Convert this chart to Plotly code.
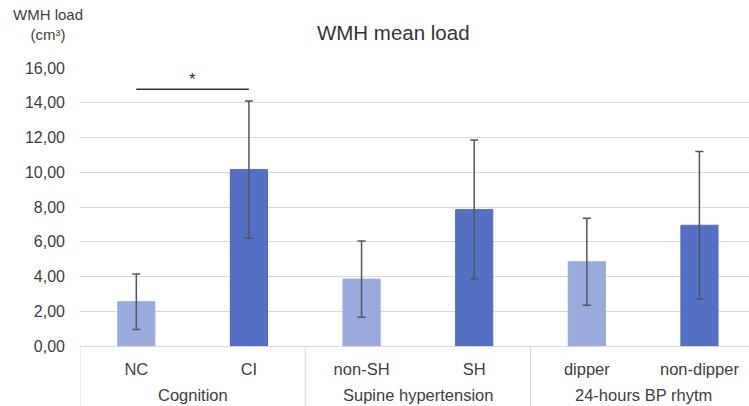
import plotly.graph_objects as go

groups = ["Cognition", "Supine hypertension", "24-hours BP rhytm"]
group_sizes = [2, 2, 2]
categories = ["NC", "CI", "non-SH", "SH", "dipper", "non-dipper"]
means = [2.55, 10.15, 3.85, 7.85, 4.85, 6.95]
errors = [1.6, 3.95, 2.2, 4.0, 2.5, 4.25]
bar_colors = ["#98abdc", "#5470c4", "#98abdc", "#5470c4", "#98abdc", "#5470c4"]
line_colors = ["#98abdc", "#4a5ee8", "#98abdc", "#5470c4", "#98abdc", "#5470c4"]
y_ticks = [0, 2, 4, 6, 8, 10, 12, 14, 16]
y_ticklabels = ["0,00", "2,00", "4,00", "6,00", "8,00", "10,00", "12,00", "14,00", "16,00"]
sig_pair = ["NC", "CI"]
sig_y = 14.78
star_y = 15.35

fig = go.Figure()
fig.add_trace(go.Bar(
    x=categories, y=means,
    marker=dict(color=bar_colors, line=dict(color=line_colors, width=1)),
    width=0.33,
    error_y=dict(type="data", array=errors, visible=True,
                 color="#555555", thickness=1.5, width=4),
    showlegend=False,
))
fig.add_trace(go.Scatter(
    x=sig_pair, y=[sig_y, sig_y], mode="lines",
    line=dict(color="#333333", width=1.5), showlegend=False,
))
i0, i1 = categories.index(sig_pair[0]), categories.index(sig_pair[1])
fig.add_annotation(
    x=(i0 + i1) / 2, y=star_y, xref="x", yref="y", text="*", showarrow=False,
    font=dict(size=17, color="#333333"),
)

# group labels and dividers derived from category indices
bottom_frac = -60 / 278
start = 0
fig.add_shape(type="line", xref="x", yref="paper", x0=-0.5, x1=-0.5, y0=0, y1=bottom_frac,
              line=dict(color="#d9d9d9", width=1))
for g, n in zip(groups, group_sizes):
    end = start + n
    fig.add_annotation(
        x=(start + end - 1) / 2, y=-48.5 / 278, xref="x", yref="paper", text=g,
        showarrow=False, yanchor="middle", font=dict(size=16.5, color="#404040"),
    )
    fig.add_shape(type="line", xref="x", yref="paper", x0=end - 0.5, x1=end - 0.5,
                  y0=0, y1=bottom_frac, line=dict(color="#d9d9d9", width=1))
    start = end

fig.update_layout(
    width=749, height=406,
    margin=dict(l=80, r=0, t=68, b=60),
    plot_bgcolor="white", paper_bgcolor="white",
    font=dict(family="Liberation Sans", size=16, color="#404040"),
    title=dict(text="WMH mean load", x=0.525, xanchor="center", y=0.918, yanchor="middle",
               font=dict(size=20.5, color="#333333")),
)
fig.update_xaxes(
    type="category", range=[-0.5, 5.44], automargin=False,
    showline=True, linecolor="#d9d9d9", linewidth=1,
    ticks="", ticklabelstandoff=8, tickfont=dict(size=16.5, color="#404040"),
)
fig.update_yaxes(
    range=[0, 16], tickvals=y_ticks, ticktext=y_ticklabels, automargin=False,
    showgrid=True, gridcolor="#d9d9d9", gridwidth=1,
    zeroline=False, ticks="", ticklabelstandoff=14,
    tickfont=dict(size=16, color="#404040"),
)
fig.add_annotation(
    x=-0.048, y=1.155, xref="paper", yref="paper", text="WMH load<br>(cm³)",
    xanchor="center", yanchor="middle",
    showarrow=False, font=dict(size=15, color="#404040"),
)
fig.write_html("out.html", config={"displayModeBar": False},
               post_script="document.body.style.margin='0';")
